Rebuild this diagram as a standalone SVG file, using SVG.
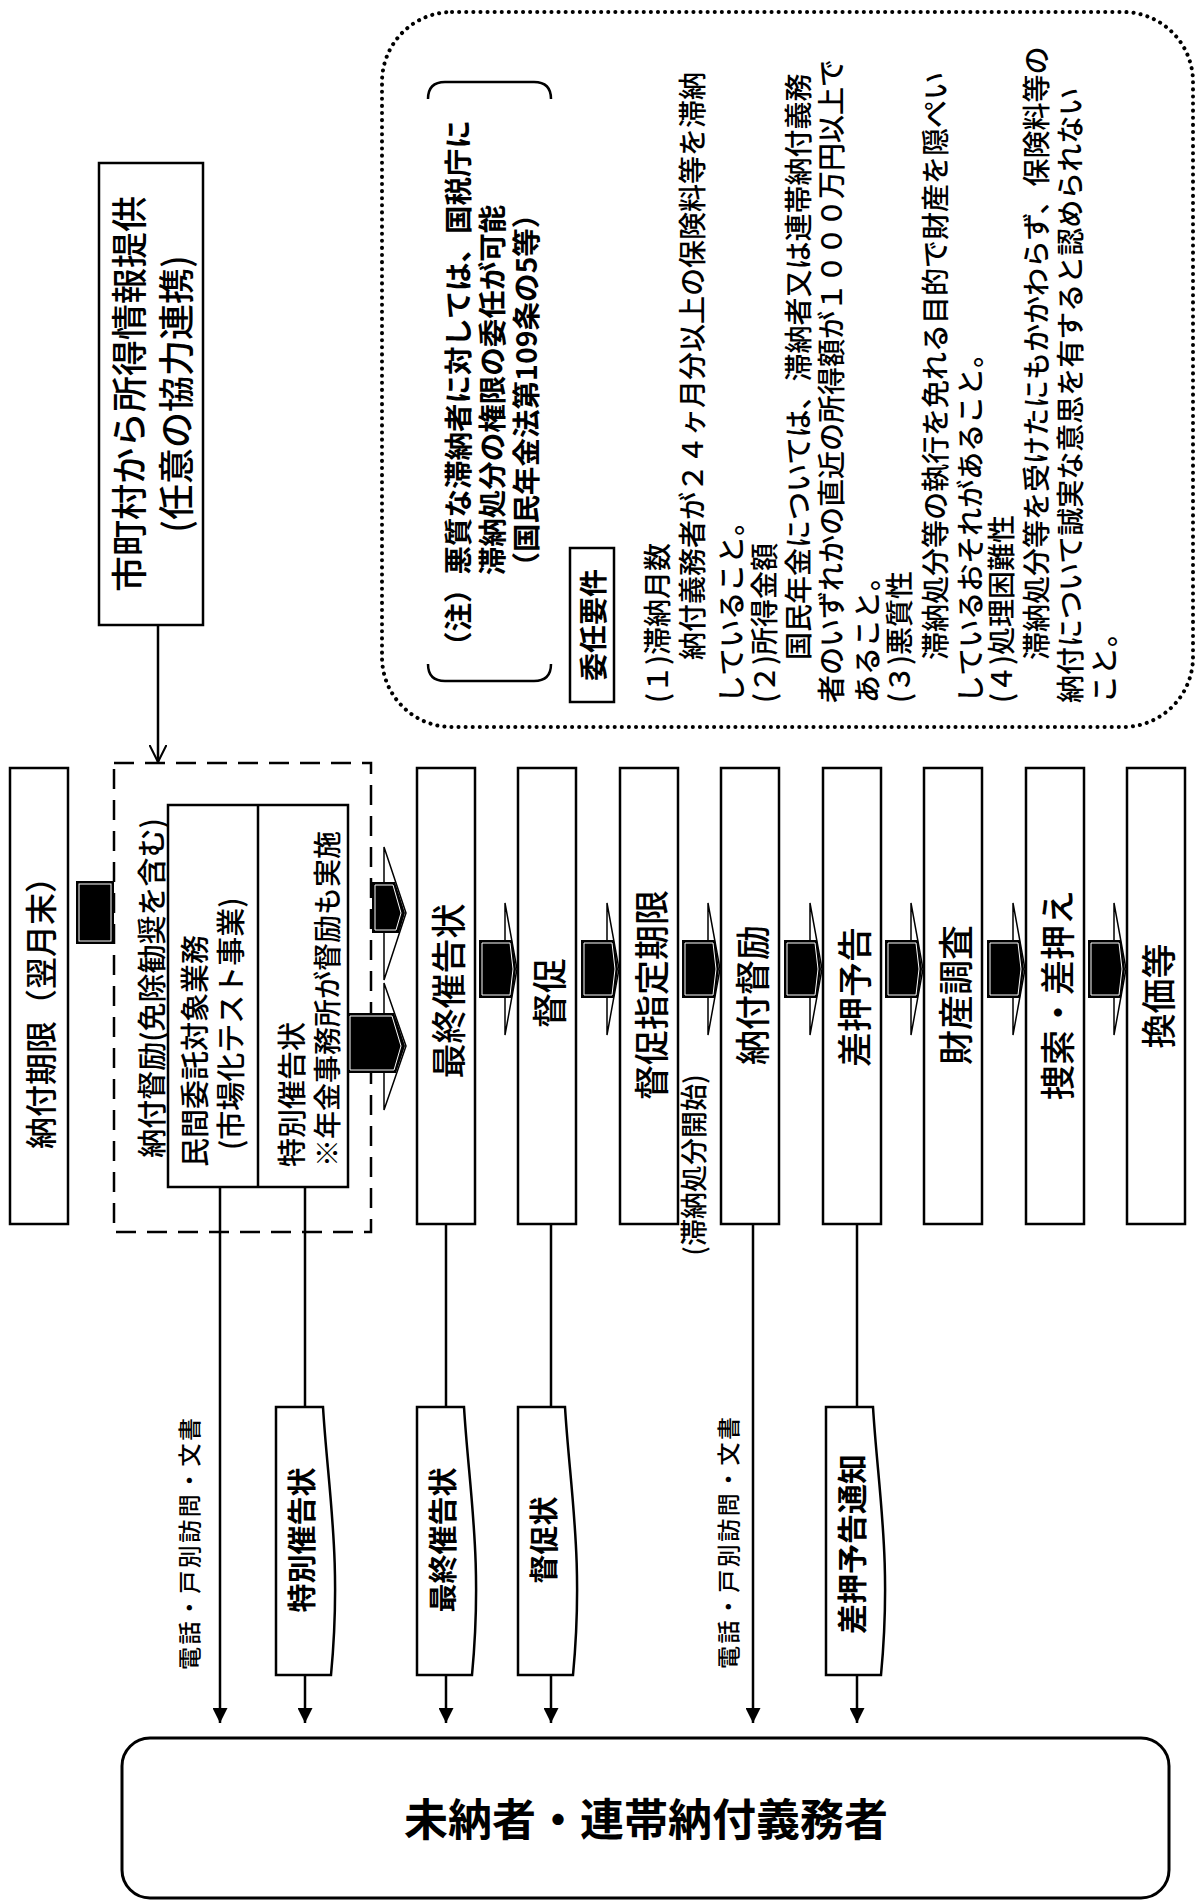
<svg xmlns="http://www.w3.org/2000/svg" width="1202" height="1900" viewBox="0 0 1202 1900">
<defs>
<style>
text{font-family:"Noto Sans CJK JP","Noto Sans",sans-serif;fill:#000;font-weight:500}
.box{fill:#fff;stroke:#000;stroke-width:2.5}
.ln{fill:none;stroke:#000;stroke-width:2.5}
.dash{fill:#fff;stroke:#000;stroke-width:2.5;stroke-dasharray:20 11}
.dot{fill:none;stroke:#000;stroke-width:4;stroke-dasharray:0.1 7;stroke-linecap:round}
text.b{font-weight:bold}
.tri{fill:#fff;stroke:#000;stroke-width:1.5}
.body{fill:#000}
.inner{fill:none;stroke:#fff;stroke-width:1}
</style>
<marker id="ah" viewBox="0 0 10 10" refX="10" refY="5" markerWidth="6" markerHeight="6" orient="auto" markerUnits="strokeWidth">
<path d="M0,0 L10,5 L0,10 Z" fill="#000"/>
</marker>
<marker id="oh" viewBox="0 0 10 10" refX="10" refY="5" markerWidth="7" markerHeight="7" orient="auto" markerUnits="strokeWidth">
<path d="M0,0 L10,5 L0,10" fill="none" stroke="#000" stroke-width="1.2"/>
</marker>
<g id="sa">
<polygon class="tri" points="-12,-66 0,0 -12,66"/>
<polygon class="body" points="-38,-29 -5,-29 -1,0 -5,29 -38,29"/>
<polygon class="inner" points="-35,-26 -7,-26 -4,0 -7,26 -35,26"/>
</g>
</defs>
<rect width="1202" height="1900" fill="#fff"/>

<!-- note box -->
<g id="note">
<rect class="dot" x="382" y="12" width="811" height="715" rx="70"/>
<path class="ln" d="M428,99 Q428,82 445,82 L534,82 Q551,82 551,99"/>
<path class="ln" d="M428,664 Q428,681 445,681 L534,681 Q551,681 551,664"/>
<g font-size="28.5" text-anchor="middle" dominant-baseline="central">
<text class="b" x="456" y="390" transform="rotate(-90 456 390)">（注）悪質な滞納者に対しては、国税庁に</text>
<text class="b" x="490" y="390" transform="rotate(-90 490 390)">滞納処分の権限の委任が可能</text>
<text class="b" x="524" y="390" transform="rotate(-90 524 390)">（国民年金法第109条の5等）</text>
</g>
<rect class="box" x="570" y="548" width="44" height="154"/>
<text class="b" x="592" y="625" font-size="28" text-anchor="middle" dominant-baseline="central" transform="rotate(-90 592 625)">委任要件</text>
<g font-size="28" dominant-baseline="central">
<text x="656" y="703" transform="rotate(-90 656 703)">(１)滞納月数</text>
<text x="691" y="660" transform="rotate(-90 691 660)">納付義務者が２４ヶ月分以上の保険料等を滞納</text>
<text x="730" y="703" transform="rotate(-90 730 703)">していること。</text>
<text x="763" y="703" transform="rotate(-90 763 703)">(２)所得金額</text>
<text x="797" y="660" transform="rotate(-90 797 660)">国民年金については、滞納者又は連帯納付義務</text>
<text x="830" y="703" transform="rotate(-90 830 703)">者のいずれかの直近の所得額が１０００万円以上で</text>
<text x="866" y="703" transform="rotate(-90 866 703)">あること。</text>
<text x="898" y="703" transform="rotate(-90 898 703)">(３)悪質性</text>
<text x="934" y="660" transform="rotate(-90 934 660)">滞納処分等の執行を免れる目的で財産を隠ぺい</text>
<text x="969" y="703" transform="rotate(-90 969 703)">しているおそれがあること。</text>
<text x="1000" y="703" transform="rotate(-90 1000 703)">(４)処理困難性</text>
<text x="1035" y="660" transform="rotate(-90 1035 660)">滞納処分等を受けたにもかかわらず、保険料等の</text>
<text x="1069" y="703" transform="rotate(-90 1069 703)">納付について誠実な意思を有すると認められない</text>
<text x="1103" y="703" transform="rotate(-90 1103 703)">こと。</text>
</g>
</g>

<!-- nodes -->
<g id="n-shichoson">
<rect class="box" x="99" y="163" width="104" height="462"/>
<text x="127" y="394" font-size="36" text-anchor="middle" dominant-baseline="central" transform="rotate(-90 127 394)">市町村から所得情報提供</text>
<text x="174" y="394" font-size="36" text-anchor="middle" dominant-baseline="central" transform="rotate(-90 174 394)">(任意の協力連携)</text>
</g>

<g id="n-nofukigen">
<rect class="box" x="10" y="768" width="58" height="456"/>
<text x="39" y="1005" font-size="32" text-anchor="middle" dominant-baseline="central" transform="rotate(-90 39 1005)">納付期限（翌月末）</text>
</g>

<g id="n-nofutokurei-group">
<rect class="dash" x="114" y="763" width="257" height="469"/>
<text x="150" y="988" font-size="29" text-anchor="middle" dominant-baseline="central" transform="rotate(-90 150 988)">納付督励(免除勧奨を含む)</text>
<rect class="box" x="168" y="805" width="180" height="382"/>
<line class="ln" x1="258" y1="805" x2="258" y2="1187"/>
<g font-size="29" dominant-baseline="central">
<text x="193" y="1167" transform="rotate(-90 193 1167)">民間委託対象業務</text>
<text x="229" y="1150" transform="rotate(-90 229 1150)">(市場化テスト事業)</text>
<text x="290" y="1167" transform="rotate(-90 290 1167)">特別催告状</text>
<text x="326" y="1167" font-size="28" transform="rotate(-90 326 1167)">※年金事務所が督励も実施</text>
</g>
</g>

<g id="n-saishu"><rect class="box" x="417" y="768" width="58" height="456"/>
<text x="446" y="991" font-size="35" text-anchor="middle" dominant-baseline="central" transform="rotate(-90 446 991)">最終催告状</text></g>
<g id="n-tokusoku"><rect class="box" x="518" y="768" width="58" height="456"/>
<text x="547" y="993" font-size="35" text-anchor="middle" dominant-baseline="central" transform="rotate(-90 547 993)">督促</text></g>
<g id="n-shitei"><rect class="box" x="620" y="768" width="58" height="456"/>
<text x="649" y="995" font-size="35" text-anchor="middle" dominant-baseline="central" transform="rotate(-90 649 995)">督促指定期限</text></g>
<g id="n-nofutokurei"><rect class="box" x="721" y="768" width="58" height="456"/>
<text x="750" y="995" font-size="35" text-anchor="middle" dominant-baseline="central" transform="rotate(-90 750 995)">納付督励</text></g>
<g id="n-yokoku"><rect class="box" x="823" y="768" width="58" height="456"/>
<text x="852" y="997" font-size="35" text-anchor="middle" dominant-baseline="central" transform="rotate(-90 852 997)">差押予告</text></g>
<g id="n-zaisan"><rect class="box" x="924" y="768" width="58" height="456"/>
<text x="953" y="995" font-size="35" text-anchor="middle" dominant-baseline="central" transform="rotate(-90 953 995)">財産調査</text></g>
<g id="n-sosaku"><rect class="box" x="1026" y="768" width="58" height="456"/>
<text x="1055" y="995" font-size="35" text-anchor="middle" dominant-baseline="central" transform="rotate(-90 1055 995)">捜索・差押え</text></g>
<g id="n-kanka"><rect class="box" x="1127" y="768" width="58" height="456"/>
<text x="1156" y="996" font-size="35" text-anchor="middle" dominant-baseline="central" transform="rotate(-90 1156 996)">換価等</text></g>

<!-- document labels -->
<g id="n-doc-tokubetsu">
<path class="box" d="M276,1407 H323 C328,1490 342,1560 331,1675 H276 Z"/>
<text class="b" x="300" y="1540" font-size="29" text-anchor="middle" dominant-baseline="central" transform="rotate(-90 300 1540)">特別催告状</text>
</g>
<g id="n-doc-saishu">
<path class="box" d="M417,1407 H464 C469,1490 483,1560 472,1675 H417 Z"/>
<text class="b" x="441" y="1540" font-size="29" text-anchor="middle" dominant-baseline="central" transform="rotate(-90 441 1540)">最終催告状</text>
</g>
<g id="n-doc-tokusokujo">
<path class="box" d="M518,1407 H565 C570,1490 584,1560 573,1675 H518 Z"/>
<text class="b" x="542" y="1540" font-size="29" text-anchor="middle" dominant-baseline="central" transform="rotate(-90 542 1540)">督促状</text>
</g>
<g id="n-doc-yokoku">
<path class="box" d="M826,1407 H873 C878,1490 892,1560 881,1675 H826 Z"/>
<text class="b" x="850" y="1544" font-size="30" text-anchor="middle" dominant-baseline="central" transform="rotate(-90 850 1544)">差押予告通知</text>
</g>

<g id="n-minou">
<rect x="122" y="1738" width="1047" height="160" rx="28" fill="#fff" stroke="#000" stroke-width="3"/>
<text class="b" x="646" y="1817" font-size="44" text-anchor="middle" dominant-baseline="central">未納者・連帯納付義務者</text>
</g>

<!-- connectors -->
<g id="connectors">
<line class="ln" x1="158" y1="625" x2="158" y2="762" marker-end="url(#oh)"/>
<line class="ln" x1="220" y1="1187" x2="220" y2="1723" marker-end="url(#ah)"/>
<line class="ln" x1="305" y1="1187" x2="305" y2="1407"/>
<line class="ln" x1="305" y1="1675" x2="305" y2="1723" marker-end="url(#ah)"/>
<line class="ln" x1="446" y1="1224" x2="446" y2="1407"/>
<line class="ln" x1="446" y1="1675" x2="446" y2="1723" marker-end="url(#ah)"/>
<line class="ln" x1="551" y1="1224" x2="551" y2="1407"/>
<line class="ln" x1="551" y1="1675" x2="551" y2="1723" marker-end="url(#ah)"/>
<line class="ln" x1="753" y1="1224" x2="753" y2="1723" marker-end="url(#ah)"/>
<line class="ln" x1="857" y1="1224" x2="857" y2="1407"/>
<line class="ln" x1="857" y1="1675" x2="857" y2="1723" marker-end="url(#ah)"/>

<rect x="76" y="881" width="38" height="63" fill="#000"/>
<rect x="79" y="884" width="32" height="57" fill="none" stroke="#fff" stroke-width="1"/>

<polygon class="tri" points="384,847 406,913 384,980"/>
<polygon class="body" points="372,882 395,882 405,913 399,933 372,933"/>
<polygon class="inner" points="375,885 393,885 401,913 396,930 375,930"/>
<polygon class="tri" points="384,983 406,1046 384,1110"/>
<polygon class="body" points="347,1013 394,1013 405,1046 396,1073 347,1073"/>
<polygon class="inner" points="350,1016 392,1016 401,1046 394,1070 350,1070"/>

<use href="#sa" transform="translate(517,969)"/>
<use href="#sa" transform="translate(619,969)"/>
<use href="#sa" transform="translate(720,969)"/>
<use href="#sa" transform="translate(822,969)"/>
<use href="#sa" transform="translate(923,969)"/>
<use href="#sa" transform="translate(1025,969)"/>
<use href="#sa" transform="translate(1126,969)"/>

<text x="188" y="1544" font-size="23" text-anchor="middle" dominant-baseline="central" textLength="252" lengthAdjust="spacing" transform="rotate(-90 188 1544)">電話・戸別訪問・文書</text>
<text x="727" y="1543" font-size="23" text-anchor="middle" dominant-baseline="central" textLength="252" lengthAdjust="spacing" transform="rotate(-90 727 1543)">電話・戸別訪問・文書</text>
<text x="692" y="1165" font-size="27" text-anchor="middle" dominant-baseline="central" transform="rotate(-90 692 1165)">(滞納処分開始)</text>
</g>
</svg>
